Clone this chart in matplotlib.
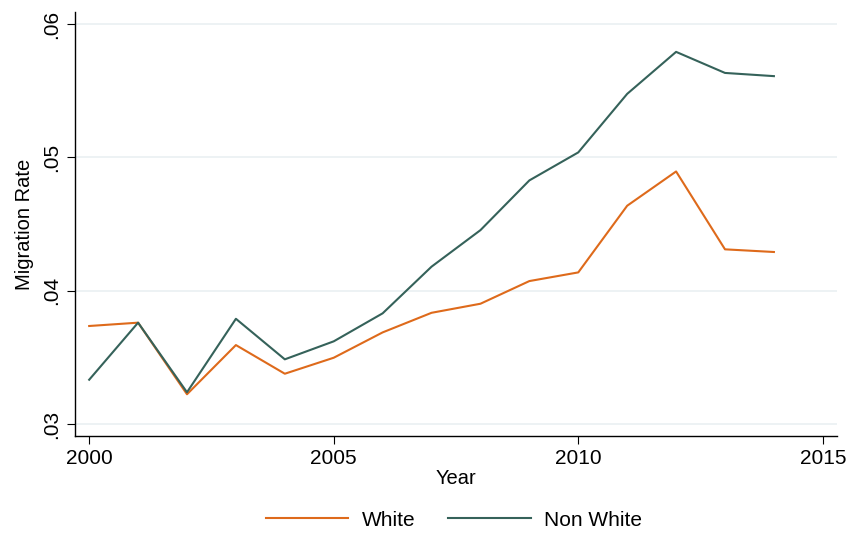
import matplotlib
matplotlib.use("Agg")
import matplotlib.pyplot as plt
from matplotlib.ticker import FuncFormatter

plt.rcParams['font.family'] = ['Liberation Sans', 'DejaVu Sans']

years = list(range(2000, 2015))
white = [0.03735, 0.0376, 0.03223, 0.03592, 0.03377, 0.03497, 0.03687, 0.03834,
         0.03902, 0.04072, 0.04137, 0.04637, 0.04894, 0.0431, 0.0429]
non_white = [0.03332, 0.0376, 0.03238, 0.03789, 0.03485, 0.0362, 0.0383, 0.0418,
             0.04454, 0.04827, 0.05037, 0.05476, 0.05791, 0.05633, 0.05609]
labels = ["White", "Non White"]
yticks = [0.03, 0.04, 0.05, 0.06]
xticks = [2000, 2005, 2010, 2015]

c_white = "#DE6A1B"
c_non = "#35625A"

fig = plt.figure(figsize=(8.5, 5.34), dpi=100)
ax = fig.add_axes([75/850, 1-436/534, (837-75)/850, (436-12)/534])

ax.plot(years, white, color=c_white, lw=1.5, label=labels[0])
ax.plot(years, non_white, color=c_non, lw=1.5, label=labels[1])

ax.set_xlim(1999.71, 2015.29)
ax.set_ylim(0.0291, 0.0609)
ax.set_yticks(yticks)
ax.set_xticks(xticks)
ax.yaxis.set_major_formatter(FuncFormatter(lambda v, p: ("%.2f" % v).lstrip("0")))
for lab in ax.get_yticklabels():
    lab.set_rotation(90)
    lab.set_va("center")
ax.tick_params(axis='both', labelsize=15, length=6, width=0.8, color="black")
ax.tick_params(axis='y', pad=4)
ax.tick_params(axis='x', pad=3)
ax.grid(axis='y', color="#EAF0F2", lw=1.2)
ax.set_axisbelow(True)
for s in ["top", "right"]:
    ax.spines[s].set_visible(False)
for s in ["left", "bottom"]:
    ax.spines[s].set_linewidth(1.0)

ax.set_xlabel("Year", fontsize=14.5, labelpad=1)
ax.set_ylabel("Migration Rate", fontsize=14.5, labelpad=6)

fig.legend(loc="center", bbox_to_anchor=(454/850, 1-520/534), ncol=2, frameon=False,
           fontsize=15, handlelength=3.95, columnspacing=1.6, handletextpad=0.63)

fig.savefig("out.png", dpi=100)
